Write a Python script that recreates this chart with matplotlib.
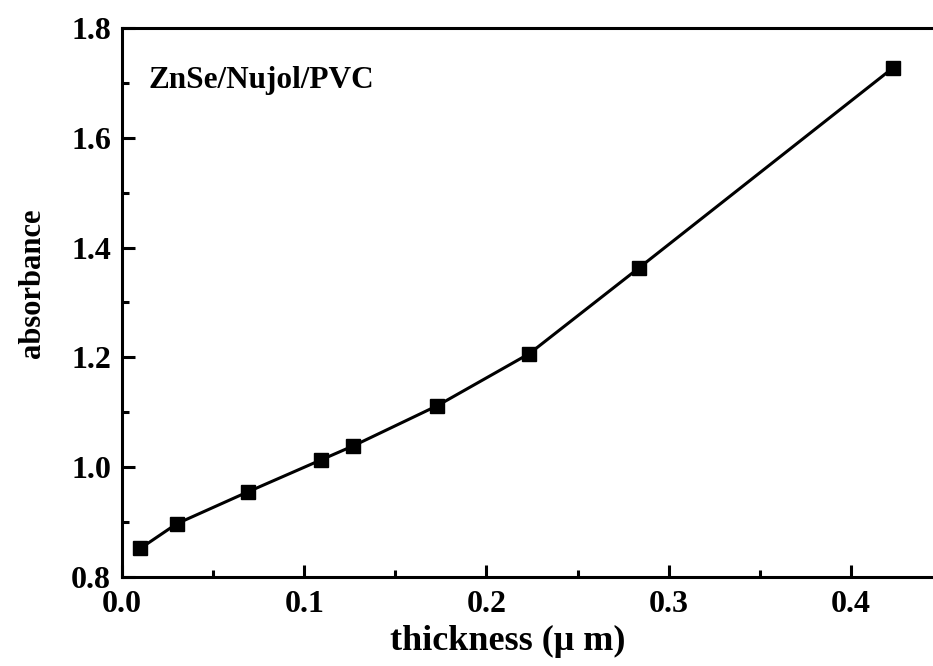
import matplotlib
matplotlib.use('Agg')
import matplotlib.pyplot as plt
from matplotlib.ticker import MultipleLocator

# Data
thickness = [0.010, 0.030, 0.069, 0.109, 0.127, 0.173, 0.2236, 0.2837, 0.423]
absorbance = [0.852, 0.897, 0.955, 1.013, 1.039, 1.112, 1.207, 1.363, 1.727]

plt.rcParams['font.family'] = ['Liberation Serif', 'DejaVu Serif']
plt.rcParams['font.weight'] = 'bold'


def main():
    fig = plt.figure(figsize=(9.33, 6.66), dpi=100)
    # right edge sits just past the figure, as in the cropped original
    ax = fig.add_axes([0.1308, 0.1336, 1.0096 - 0.1308, 0.958 - 0.1336])

    ax.plot(thickness, absorbance, color='black', lw=2.2,
            marker='s', markersize=10.5, markerfacecolor='black',
            markeredgecolor='black')

    ax.set_xlim(0.0, 0.45)
    ax.set_ylim(0.8, 1.8)
    ax.xaxis.set_major_locator(MultipleLocator(0.1))
    ax.xaxis.set_minor_locator(MultipleLocator(0.05))
    ax.yaxis.set_major_locator(MultipleLocator(0.2))
    ax.yaxis.set_minor_locator(MultipleLocator(0.1))
    ax.xaxis.set_major_formatter(plt.FormatStrFormatter('%.1f'))
    ax.yaxis.set_major_formatter(plt.FormatStrFormatter('%.1f'))

    ax.tick_params(which='both', direction='in', width=2.2, labelsize=23)
    ax.tick_params(which='major', length=9)
    ax.tick_params(which='minor', length=5)
    ax.tick_params(axis='y', pad=8)
    ax.tick_params(axis='x', pad=9)
    for s in ax.spines.values():
        s.set_linewidth(2.2)

    ax.set_xlabel('thickness (μ m)', fontsize=26, fontweight='bold')
    ax.set_ylabel('absorbance', fontsize=22, fontweight='bold')
    ax.xaxis.set_label_coords(0.47, -0.088, transform=ax.transAxes)
    ax.yaxis.set_label_coords(-0.092, 0.535, transform=ax.transAxes)

    ax.text(0.032, 0.905, 'ZnSe/Nujol/PVC', transform=ax.transAxes,
            fontsize=22.5, fontweight='bold', va='center', ha='left')

    fig.savefig('out.png', dpi=100)


if __name__ == '__main__':
    main()
